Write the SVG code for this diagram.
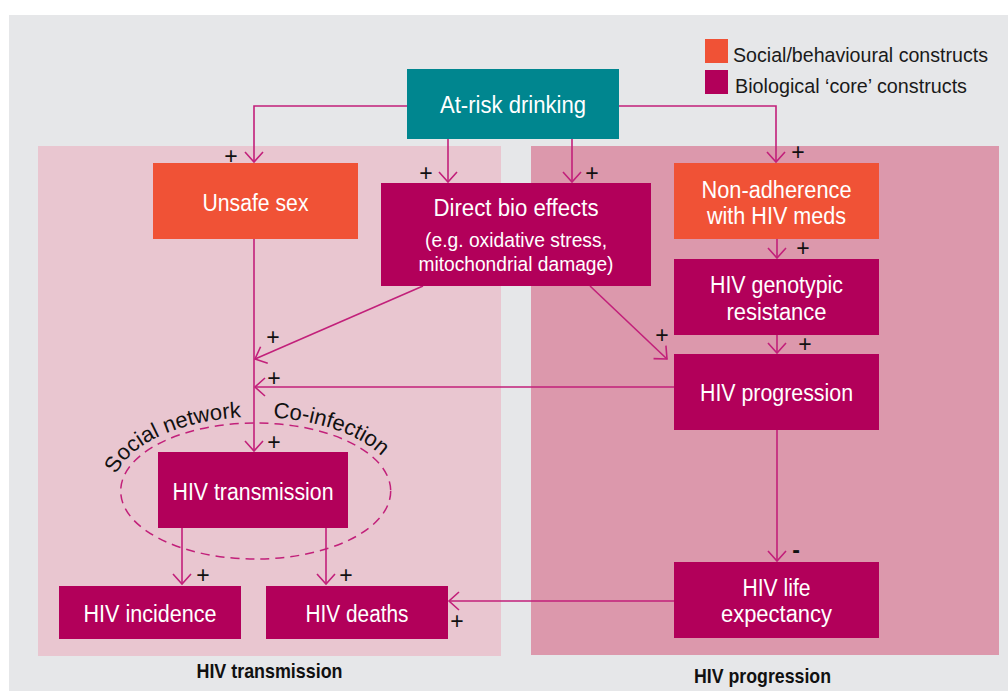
<svg xmlns="http://www.w3.org/2000/svg" width="1008" height="691" viewBox="0 0 1008 691">
<defs>
<style>
.lbl{font-family:"Liberation Sans",Arial,sans-serif;fill:#ffffff;font-size:23.5px;text-anchor:middle}
.sub{font-size:20.5px}
.sign{font-family:"Liberation Sans",Arial,sans-serif;fill:#111111;font-size:23px;text-anchor:middle}
.leg{font-family:"Liberation Sans",Arial,sans-serif;fill:#1a1a1a;font-size:20.5px}
.cap{font-family:"Liberation Sans",Arial,sans-serif;fill:#111111;font-size:20.5px;font-weight:bold;text-anchor:middle}
.arc{font-family:"Liberation Sans",Arial,sans-serif;fill:#111111;font-size:22px}
.con{fill:none;stroke:#C2207A;stroke-width:1.6}
.soc{fill:#F05236}
.bio{fill:#B2005A}
</style>
<marker id="ah" markerUnits="userSpaceOnUse" viewBox="-12 -11 14 22" refX="0" refY="0" markerWidth="14" markerHeight="22" orient="auto">
<path d="M-10,-9 L0,0 L-10,9" fill="none" stroke="#C2207A" stroke-width="1.6"/>
</marker>
<path id="ellTop" d="M112.7,491 A143,74 0 0 1 398.7,491"/>
</defs>
<rect x="0" y="0" width="1008" height="691" fill="#ffffff"/>
<rect x="9" y="15" width="999" height="676" fill="#E6E7E9"/>
<g id="panels">
<rect x="38" y="146" width="463" height="510" fill="#E9C6D0"/>
<rect x="531" y="146" width="468" height="509" fill="#DC98AC"/>
<text class="cap" x="269.5" y="677.5" textLength="146" lengthAdjust="spacingAndGlyphs">HIV transmission</text>
<text class="cap" x="762.5" y="682.5" textLength="137" lengthAdjust="spacingAndGlyphs">HIV progression</text>
</g>
<g id="legend">
<rect class="soc" x="705" y="39" width="23" height="24"/>
<rect class="bio" x="705" y="70" width="23" height="24"/>
<text class="leg" x="733" y="62" textLength="255" lengthAdjust="spacingAndGlyphs">Social/behavioural constructs</text>
<text class="leg" x="735" y="93" textLength="232" lengthAdjust="spacingAndGlyphs">Biological ‘core’ constructs</text>
</g>
<g id="connectors">
<path class="con" d="M407,106 H254 V162" marker-end="url(#ah)"/>
<path class="con" d="M619,106 H776 V162" marker-end="url(#ah)"/>
<path class="con" d="M448,139 V182" marker-end="url(#ah)"/>
<path class="con" d="M572,139 V182" marker-end="url(#ah)"/>
<path class="con" d="M777,239 V258" marker-end="url(#ah)"/>
<path class="con" d="M777,335 V353" marker-end="url(#ah)"/>
<path class="con" d="M590,286 L667,359" marker-end="url(#ah)"/>
<path class="con" d="M423,286 L255,359" marker-end="url(#ah)"/>
<path class="con" d="M674,387 H255" marker-end="url(#ah)"/>
<path class="con" d="M254,239 V451" marker-end="url(#ah)"/>
<path class="con" d="M182,528 V584" marker-end="url(#ah)"/>
<path class="con" d="M326,528 V584" marker-end="url(#ah)"/>
<path class="con" d="M777,430 V561" marker-end="url(#ah)"/>
<path class="con" d="M674,601 H449" marker-end="url(#ah)"/>
<ellipse cx="255.7" cy="491" rx="135" ry="68" fill="none" stroke="#C2207A" stroke-width="1.5" stroke-dasharray="9 6"/>
<text class="sign" x="231" y="164">+</text>
<text class="sign" x="426" y="181">+</text>
<text class="sign" x="592" y="181">+</text>
<text class="sign" x="798" y="160">+</text>
<text class="sign" x="803" y="256">+</text>
<text class="sign" x="805" y="352">+</text>
<text class="sign" x="662" y="343">+</text>
<text class="sign" x="273" y="345">+</text>
<text class="sign" x="274" y="386">+</text>
<text class="sign" x="274" y="450">+</text>
<text class="sign" x="203" y="583">+</text>
<text class="sign" x="346" y="583">+</text>
<text class="sign" x="457" y="629">+</text>
<text class="sign" x="796" y="558" style="font-weight:bold">-</text>
<text class="arc"><textPath href="#ellTop" startOffset="17">Social network</textPath></text>
<text class="arc"><textPath href="#ellTop" startOffset="192">Co-infection</textPath></text>
</g>
<g id="at-risk">
<rect x="407" y="69" width="212" height="70" fill="#00868F"/>
<text class="lbl" x="513" y="113" textLength="146" lengthAdjust="spacingAndGlyphs">At-risk drinking</text>
</g>
<g id="unsafe-sex">
<rect class="soc" x="153" y="163" width="205" height="76"/>
<text class="lbl" x="255.5" y="211" textLength="106" lengthAdjust="spacingAndGlyphs">Unsafe sex</text>
</g>
<g id="direct-bio">
<rect class="bio" x="381" y="183" width="270" height="103"/>
<text class="lbl" x="516" y="216" textLength="165" lengthAdjust="spacingAndGlyphs">Direct bio effects</text>
<text class="lbl sub" x="516" y="247" textLength="182" lengthAdjust="spacingAndGlyphs">(e.g. oxidative stress,</text>
<text class="lbl sub" x="516" y="271" textLength="195" lengthAdjust="spacingAndGlyphs">mitochondrial damage)</text>
</g>
<g id="non-adherence">
<rect class="soc" x="674" y="163" width="205" height="76"/>
<text class="lbl" x="776.5" y="198" textLength="150" lengthAdjust="spacingAndGlyphs">Non-adherence</text>
<text class="lbl" x="776.5" y="224" textLength="139" lengthAdjust="spacingAndGlyphs">with HIV meds</text>
</g>
<g id="genotypic">
<rect class="bio" x="674" y="259" width="205" height="76"/>
<text class="lbl" x="776.5" y="293" textLength="133" lengthAdjust="spacingAndGlyphs">HIV genotypic</text>
<text class="lbl" x="776.5" y="320" textLength="100" lengthAdjust="spacingAndGlyphs">resistance</text>
</g>
<g id="progression">
<rect class="bio" x="674" y="354" width="205" height="76"/>
<text class="lbl" x="776.5" y="400.5" textLength="153" lengthAdjust="spacingAndGlyphs">HIV progression</text>
</g>
<g id="life-expectancy">
<rect class="bio" x="674" y="562" width="205" height="76"/>
<text class="lbl" x="776.5" y="595.5" textLength="68" lengthAdjust="spacingAndGlyphs">HIV life</text>
<text class="lbl" x="776.5" y="622" textLength="111" lengthAdjust="spacingAndGlyphs">expectancy</text>
</g>
<g id="transmission">
<rect class="bio" x="158" y="452" width="190" height="76"/>
<text class="lbl" x="253" y="500" textLength="161" lengthAdjust="spacingAndGlyphs">HIV transmission</text>
</g>
<g id="incidence">
<rect class="bio" x="59" y="586" width="182" height="53"/>
<text class="lbl" x="150" y="622" textLength="133" lengthAdjust="spacingAndGlyphs">HIV incidence</text>
</g>
<g id="deaths">
<rect class="bio" x="266" y="586" width="182" height="53"/>
<text class="lbl" x="357" y="622" textLength="103" lengthAdjust="spacingAndGlyphs">HIV deaths</text>
</g>
</svg>
